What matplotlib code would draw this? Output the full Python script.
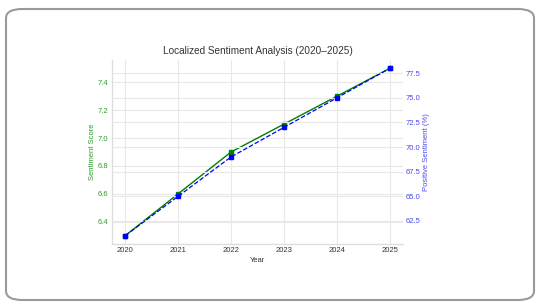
import matplotlib
matplotlib.use("Agg")
import matplotlib.pyplot as plt
import seaborn as sns
from matplotlib.patches import FancyBboxPatch

years = [2020, 2021, 2022, 2023, 2024, 2025]
sentiment_score = [6.3, 6.6, 6.9, 7.1, 7.3, 7.5]
positive_pct = [61.0, 65.0, 69.0, 72.0, 75.0, 78.0]

sns.set_style("whitegrid")
plt.rcParams['font.family'] = ['Liberation Sans', 'DejaVu Sans']

fig = plt.figure(figsize=(5.4, 3.07), dpi=100)
fig.patch.set_facecolor("white")

# rounded border
border = FancyBboxPatch((6/540, 7/307), (534-6)/540, (298-7)/307,
                        boxstyle="round,pad=0,rounding_size=0.03",
                        transform=fig.transFigure, facecolor="white",
                        edgecolor="#9a9a9a", linewidth=1.5, zorder=-1)
fig.patches.append(border)

ax = fig.add_axes([112/540, (307-244)/307, (403-112)/540, (244-60)/307])
ax.set_facecolor("none")
ax.plot(years, sentiment_score, color="green", marker="s", markersize=3.2,
        linewidth=1.0, linestyle="-")
ax.set_xlabel("Year", fontsize=5.5, color="#333333", labelpad=2)
ax.set_ylabel("Sentiment Score", fontsize=5.5, color="#2e9a2e", labelpad=1)
ax.tick_params(axis="y", labelcolor="#2e9a2e", labelsize=5.5, length=0, pad=3)
ax.tick_params(axis="x", labelcolor="#333333", labelsize=5.5, length=0, pad=2)
ax.set_xticks(years)
ax.set_xticklabels([str(y) for y in years])
ax.grid(True, color="#e8e8e8", linewidth=0.8)
for s in ["top", "right"]:
    ax.spines[s].set_visible(False)
for s in ["left", "bottom"]:
    ax.spines[s].set_color("#dddddd")
    ax.spines[s].set_linewidth(1.0)

ax2 = ax.twinx()
ax2.plot(years, positive_pct, color="blue", marker="s", markersize=3.5,
         linewidth=0.9, linestyle="--")
ax2.set_ylabel("Positive Sentiment (%)", fontsize=5.5, color="#4a4af0", labelpad=2)
ax2.tick_params(axis="y", labelcolor="#4a4af0", labelsize=5.5, length=0, pad=2)
ax2.grid(True, color="#e8e8e8", linewidth=0.8)
for s in ["top", "right", "left", "bottom"]:
    ax2.spines[s].set_visible(False)

ax.set_title("Localized Sentiment Analysis (2020\u20132025)", fontsize=7.2,
             color="#333333", pad=4)

fig.savefig("out.png", dpi=100)
